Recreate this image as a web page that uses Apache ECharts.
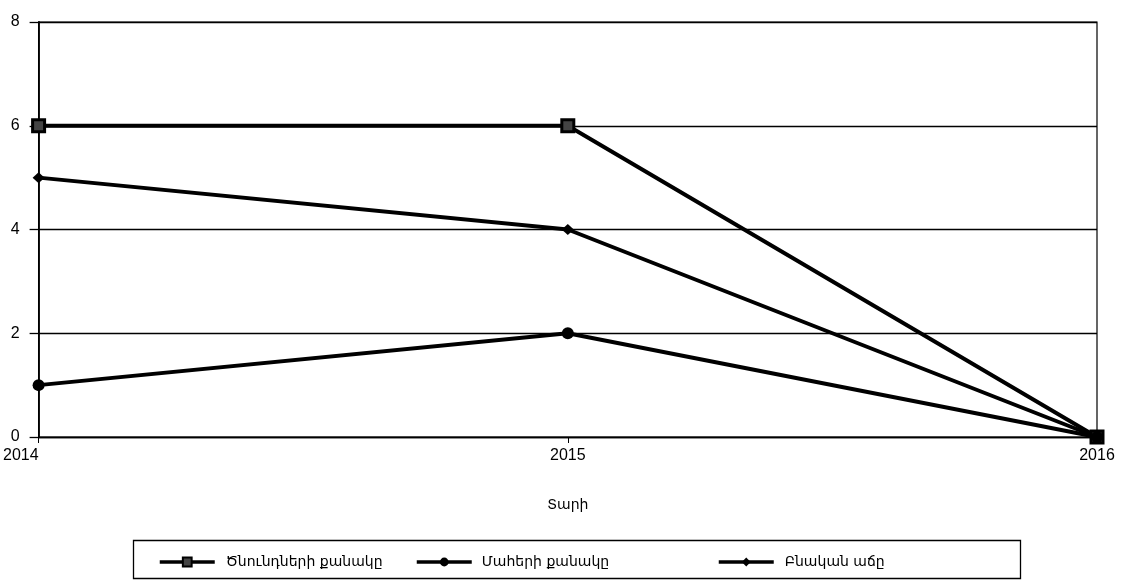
<!DOCTYPE html>
<html><head><meta charset="utf-8">
<script src="https://cdn.jsdelivr.net/npm/echarts@6/dist/echarts.min.js"></script>
<style>html,body{margin:0;padding:0;background:#fff}#c{width:1122px;height:584px}</style>
</head><body><div id="c"></div>
<script>
const categories = ['2014', '2015', '2016'];
const births = [6, 6, 0];
const deaths = [1, 2, 0];
const natural = [5, 4, 0];
const seriesNames = ['Ծնունդների քանակը', 'Մահերի քանակը', 'Բնական աճը'];
const yTicks = [0, 2, 4, 6, 8];
const xAxisName = 'Տարի';

const FONT = 'DejaVu Sans';
const chart = echarts.init(document.getElementById('c'));
const lineStyle = {color: '#000', width: 4};
function legendAt(name, left, pad) {
  return {
    data: [name], left: left, top: 550, orient: 'horizontal',
    itemWidth: 55, itemHeight: 11, itemGap: 5,
    lineStyle: {width: 3.5, color: '#000'},
    textStyle: {fontFamily: FONT, fontSize: 14, color: '#000', padding: [0, 0, 0, pad]}
  };
}
chart.setOption({
  animation: false,
  backgroundColor: '#fff',
  grid: {left: 38, right: 25, top: 22, bottom: 147, show: true, borderColor: '#000', borderWidth: 1.2},
  graphic: [{type: 'rect', shape: {x: 133.5, y: 540.5, width: 887, height: 38}, style: {fill: 'none', stroke: '#000', lineWidth: 1.3}}],
  legend: [
    legendAt(seriesNames[0], 153, 6),
    legendAt(seriesNames[1], 410, 5),
    legendAt(seriesNames[2], 712, 6)
  ],
  xAxis: {
    type: 'category', data: categories, boundaryGap: false,
    name: xAxisName, nameLocation: 'middle', nameGap: 61,
    nameTextStyle: {fontFamily: FONT, fontSize: 14, color: '#000'},
    axisLine: {lineStyle: {color: '#000', width: 1.3}},
    axisTick: {show: true, length: 6, lineStyle: {color: '#000'}},
    axisLabel: {fontFamily: 'Liberation Sans', fontSize: 16, color: '#000', margin: 11,
                alignMinLabel: 'right'}
  },
  yAxis: {
    type: 'value', min: yTicks[0], max: yTicks[yTicks.length - 1], interval: 2,
    axisLine: {show: true, lineStyle: {color: '#000', width: 1.8}},
    axisTick: {show: true, length: 9, lineStyle: {color: '#000', width: 1.3}},
    axisLabel: {fontFamily: 'Liberation Sans', fontSize: 16, color: '#000', margin: 19},
    splitLine: {show: true, lineStyle: {color: '#000', width: 1.4}}
  },
  series: [
    {name: seriesNames[0], type: 'line', data: births, symbol: 'rect', symbolSize: 12,
     lineStyle: lineStyle, itemStyle: {color: '#444', borderColor: '#000', borderWidth: 3}},
    {name: seriesNames[1], type: 'line', data: deaths, symbol: 'circle', symbolSize: 12,
     lineStyle: lineStyle, itemStyle: {color: '#000'}},
    {name: seriesNames[2], type: 'line', data: natural, symbol: 'diamond', symbolSize: [12, 11],
     lineStyle: lineStyle, itemStyle: {color: '#000'}}
  ]
});
</script></body></html>
